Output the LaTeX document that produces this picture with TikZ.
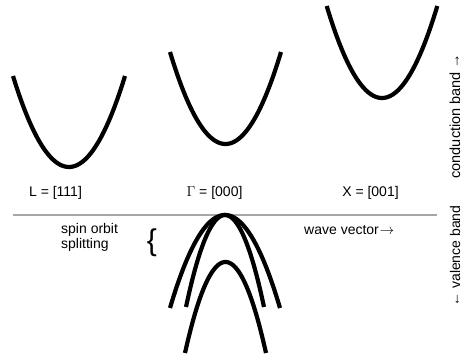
\documentclass[tikz,border=0pt]{standalone}
\usepackage{fontspec}
\setmainfont{Liberation Sans}
\begin{document}
\begin{tikzpicture}[x=1pt,y=-1pt,
  band/.style={line width=4.2pt,black},
  lbl/.style={inner sep=0pt,font=\fontsize{14}{16}\selectfont},
  vlbl/.style={inner sep=0pt,rotate=90,font=\fontsize{14.5}{16}\selectfont}]
\useasboundingbox (0,0) rectangle (466,358);
% conduction bands
\draw[band] plot[domain=-56:56,samples=60] ({69+\x},{167-91*(\x/56)^2});
\draw[band] plot[domain=-55.5:55.5,samples=60] ({225.5+\x},{144-92*(\x/55.5)^2});
\draw[band] plot[domain=-55.3:55.3,samples=60] ({382+\x},{98-92*(\x/55.3)^2});
% separator
\draw[line width=1.2pt,black!35] (13,215) -- (437,215);
% valence bands
\draw[band] plot[domain=-55:55,samples=60] ({225+\x},{215+93*(\x/55)^2});
\draw[band] plot[domain=-39:39,samples=60] ({225+\x},{215+92*(\x/39)^2});
\draw[band] plot[domain=-40.5:40.5,samples=60] ({225.5+\x},{262+91*(\x/40.5)^2});
% labels
\node[lbl,anchor=base] (lL) at (55.5,197) {L = [111]};
\node[lbl,anchor=base] (lG) at (214.5,197) {$\Gamma$ = [000]};
\node[lbl,anchor=base] (lX) at (370.5,197) {X = [001]};
\node[lbl,anchor=base west] (so1) at (61,234) {spin orbit};
\node[lbl,anchor=base west] (so2) at (61,249) {splitting};
\node[inner sep=0pt,font=\fontsize{30}{30}\selectfont] (br) at (152,243) {\{};
\node[lbl,anchor=base west] (wv) at (304,235) {wave vector\kern1pt$\rightarrow$};
\node[vlbl] (cb) at (455,116) {conduction band \raisebox{0.5pt}{→}};
\node[vlbl,font=\fontsize{14}{16}\selectfont] (vb) at (455,256) {\raisebox{0.5pt}{←} valence band};
\end{tikzpicture}
\end{document}
